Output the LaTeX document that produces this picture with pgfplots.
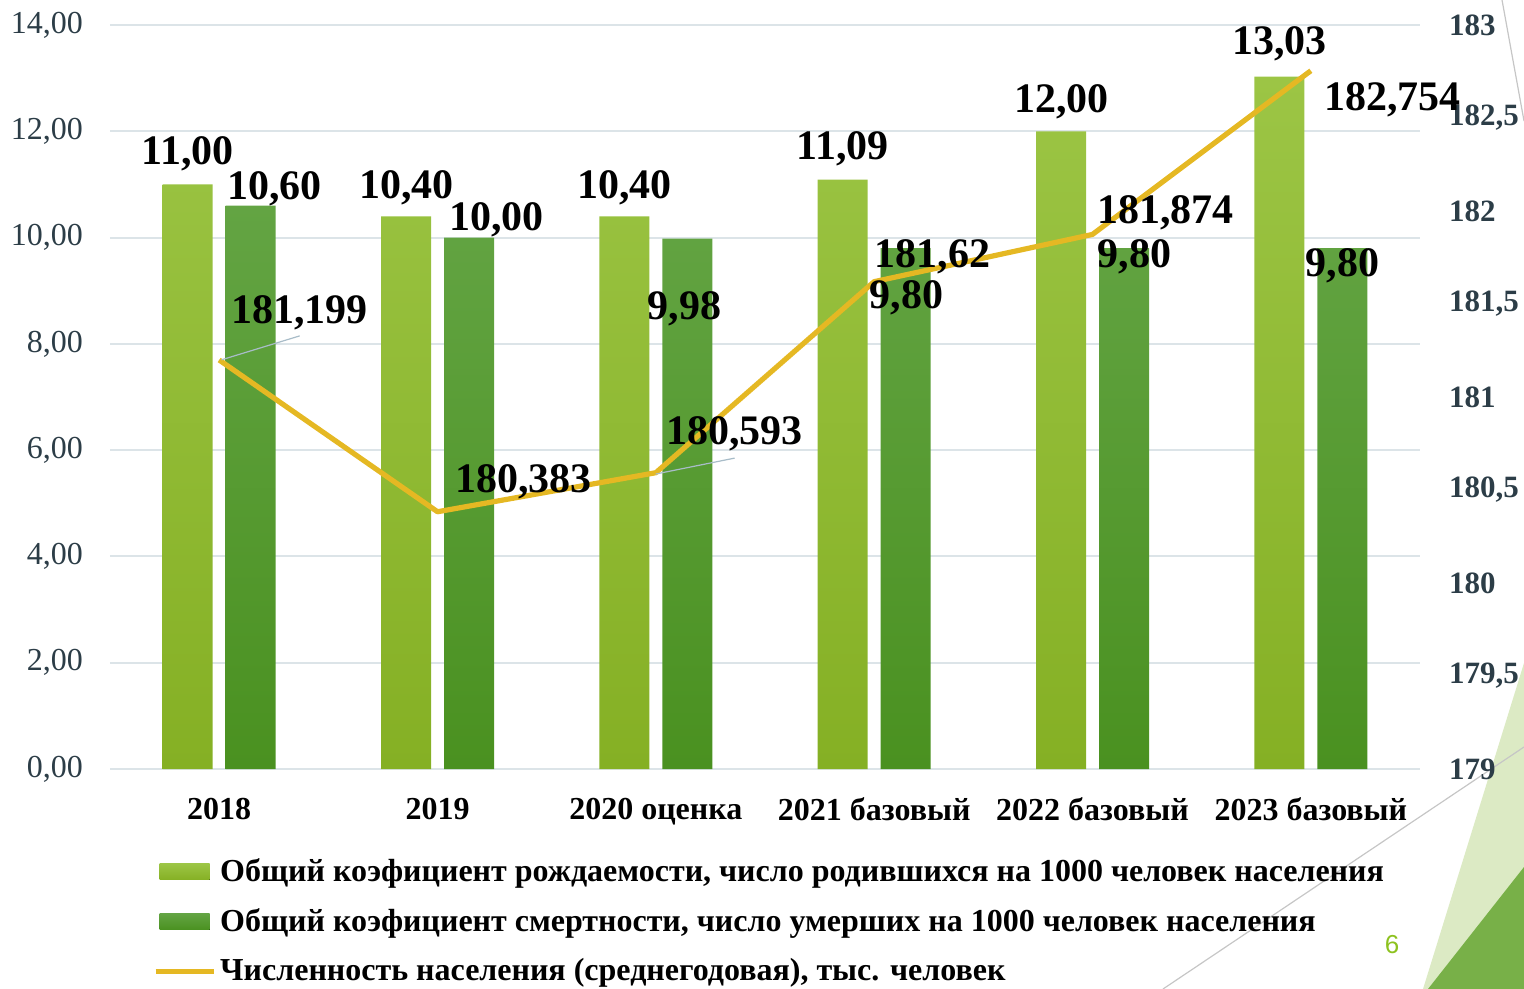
\documentclass[border=0pt]{standalone}
\usepackage{fontspec}
\setmainfont{Liberation Serif}
\newfontfamily\sansf{Liberation Sans}
\usepackage{pgfplots}
\pgfplotsset{compat=1.18}
\definecolor{lgtop}{HTML}{9CC545}
\definecolor{lgbot}{HTML}{85B024}
\definecolor{dgtop}{HTML}{63A443}
\definecolor{dgbot}{HTML}{4A9120}
\definecolor{gold}{HTML}{E5B823}
\definecolor{gridc}{HTML}{DCE4E8}
\definecolor{tickc}{HTML}{2C3D47}
\definecolor{leader}{HTML}{A8BCC8}
\definecolor{tri1}{HTML}{DCEAC4}
\definecolor{tri2}{HTML}{78B048}
\definecolor{pnum}{HTML}{8DC21F}
\newcommand{\dl}[3]{\node[anchor=base, font=\bfseries\fontsize{21}{24}\selectfont, inner sep=0pt] at (axis cs:#1,{179+#2/3.5}) {#3};}
\begin{document}
\begin{tikzpicture}
% decorations
\fill[tri1] (656.5pt,-110pt) -- (707pt,53pt) -- (707pt,-110pt) -- cycle;
\fill[tri2] (659pt,-110pt) -- (707pt,-49pt) -- (707pt,-110pt) -- cycle;
\draw[gray!45, line width=0.6pt] (526.5pt,-110pt) -- (707pt,11pt);
\draw[gray!45, line width=0.6pt] (696pt,384.5pt) -- (707pt,324pt);
\node[font=\sansf\fontsize{13}{15}\selectfont, text=pnum] at (641pt,-88pt) {6};

\begin{axis}[
 at={(0,0)}, anchor=south west,
 scale only axis, width=655pt, height=372pt,
 xmin=-0.5, xmax=5.5, ymin=0, ymax=14,
 ybar=6.5pt, bar width=25pt,
 xtick={0,...,5},
 xticklabels={2018,2019,2020 оценка,2021 базовый,2022 базовый,2023 базовый},
 xticklabel style={font=\bfseries\fontsize{16}{18}\selectfont, yshift=-11pt},
 ytick={0,2,...,14},
 yticklabel style={font=\fontsize{16}{18}\selectfont, color=tickc, xshift=-10pt,
   /pgf/number format/.cd, fixed, fixed zerofill, precision=2, use comma, assume math mode=true},
 ymajorgrids, major grid style={gridc, line width=1pt},
 axis line style={draw=none}, major tick length=0pt,
 legend style={at={(0.0327,-0.115)}, anchor=north west, draw=none, fill=none,
   font=\bfseries\fontsize{16}{18}\selectfont, row sep=8pt, inner sep=0pt,
   nodes={inner xsep=2pt}},
 legend cell align=left,
]
\addplot[draw=none, top color=lgtop, bottom color=lgbot,
  legend image code/.code={\fill[top color=lgtop,bottom color=lgbot] (0pt,-4pt) rectangle (25pt,4pt);}]
  coordinates {(0,11.00)(1,10.40)(2,10.40)(3,11.09)(4,12.00)(5,13.03)};
\addlegendentry{Общий коэфициент рождаемости, число родившихся на 1000 человек населения}
\addplot[draw=none, top color=dgtop, bottom color=dgbot,
  legend image code/.code={\fill[top color=dgtop,bottom color=dgbot] (0pt,-4pt) rectangle (25pt,4pt);}]
  coordinates {(0,10.60)(1,10.00)(2,9.98)(3,9.80)(4,9.80)(5,9.80)};
\addlegendentry{Общий коэфициент смертности, число умерших на 1000 человек населения}
\addlegendimage{legend image code/.code={\draw[gold,line width=2.5pt] (-2pt,0pt) -- (27pt,0pt);}}
\addlegendentry{Численность населения (среднегодовая), тыс. человек}
\end{axis}

\begin{axis}[
 at={(0,0)}, anchor=south west,
 scale only axis, width=655pt, height=372pt,
 xmin=-0.5, xmax=5.5, ymin=179, ymax=183,
 hide x axis, axis y line*=right, axis line style={draw=none}, major tick length=0pt,
 ytick={179,179.5,180,180.5,181,181.5,182,182.5,183},
 yticklabel style={font=\bfseries\fontsize{15.5}{18}\selectfont, color=tickc, xshift=11pt,
   /pgf/number format/.cd, use comma, 1000 sep={}, assume math mode=true},
 clip=false,
]
\addplot[gold, line width=2.6pt, line join=round, mark=none]
  coordinates {(0,181.199)(1,180.383)(2,180.593)(3,181.62)(4,181.874)(5,182.754)};
\draw[leader, line width=0.6pt] (axis cs:0.011,{179+7.70/3.5}) -- (axis cs:0.369,{179+8.15/3.5});
\draw[leader, line width=0.6pt] (axis cs:1.999,{179+5.55/3.5}) -- (axis cs:2.361,{179+5.85/3.5});
\dl{-0.144}{11.37}{11,00}
\dl{0.254}{10.71}{10,60}
\dl{0.859}{10.74}{10,40}
\dl{1.271}{10.14}{10,00}
\dl{1.857}{10.74}{10,40}
\dl{2.132}{8.45}{9,98}
\dl{2.856}{11.46}{11,09}
\dl{3.149}{8.67}{9,80}
\dl{3.859}{12.36}{12,00}
\dl{4.193}{9.43}{9,80}
\dl{4.857}{13.44}{13,03}
\dl{5.146}{9.26}{9,80}
\dl{0.369}{8.39}{181,199}
\dl{1.395}{5.21}{180,383}
\dl{2.361}{6.10}{180,593}
\dl{3.268}{9.43}{181,62}
\dl{4.335}{10.26}{181,874}
\dl{5.375}{12.40}{182,754}
\end{axis}
\pgfresetboundingbox
\path[use as bounding box] (-55pt,-110pt) rectangle (707pt,384.5pt);
\end{tikzpicture}
\end{document}
